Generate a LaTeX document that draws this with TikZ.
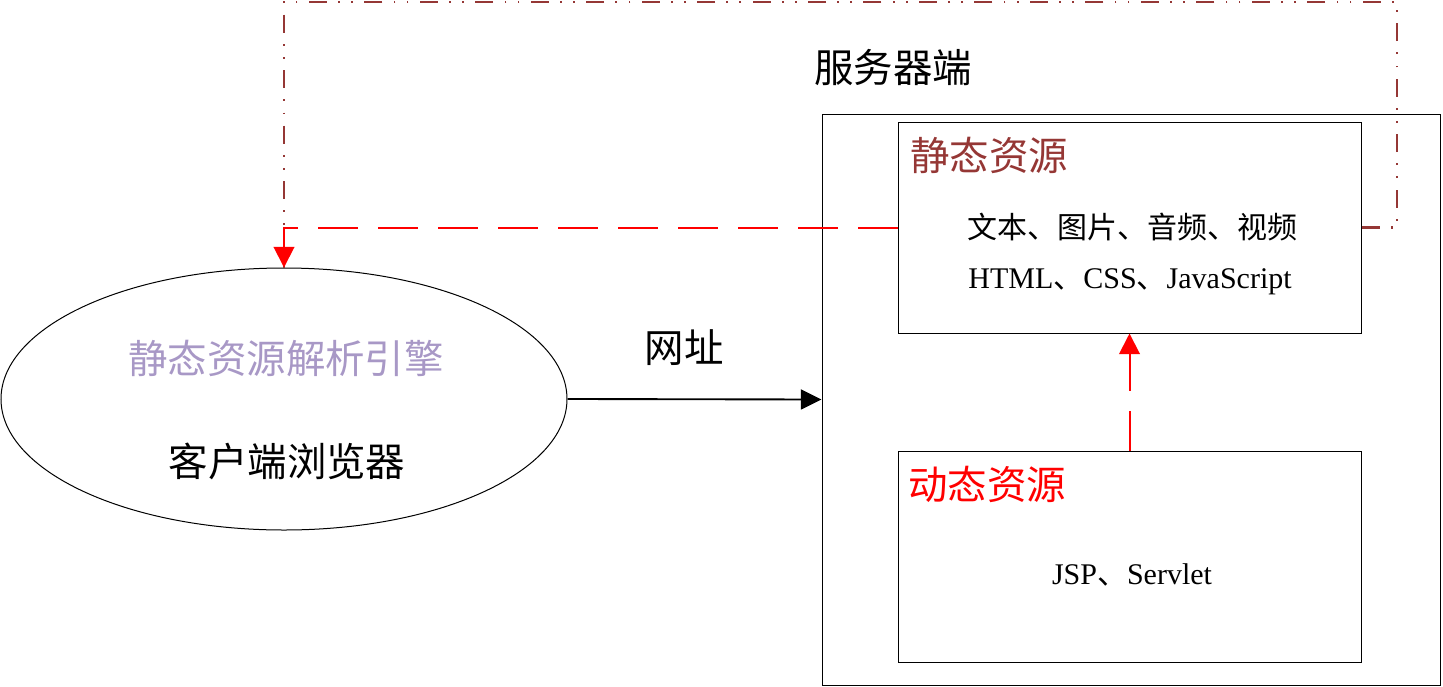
\documentclass[tikz,border=0pt]{standalone}
\usepackage{fontspec}
\setmainfont{Liberation Serif}
\newfontfamily\cjk{Noto Sans CJK SC}
\usepackage{tikz}
\usetikzlibrary{
  shapes.geometric,
  arrows.meta,
  positioning
}
\definecolor{LoopBrown}{HTML}{953735}
\definecolor{EngLilac}{HTML}{A898C6}
\tikzset{
  % Plain framed box (server and resource boxes)
  srvbox/.style={
    rectangle, draw=black, line width=0.75pt, inner sep=0pt
  },
  % Browser ellipse
  engell/.style={
    ellipse, draw=black, line width=0.75pt, inner sep=0pt,
    minimum width=424.5pt, minimum height=196.5pt
  },
  % Large CJK caption
  bigtxt/.style={font=\fontsize{29.6pt}{32pt}\selectfont\cjk, inner sep=0pt, text=#1},
  bigtxt/.default=black,
  % Small caption inside boxes
  smalltxt/.style={font=\fontsize{22.5pt}{26pt}\selectfont, inner sep=0pt},
  % Arrow
  arr/.style={
    -{Triangle[length=15.5pt,width=15pt]},
    line width=#1
  },
  % Red dashed request arrow
  rdash/.style={
    -{Triangle[length=15.5pt,width=15.5pt]},
    dash pattern=on 30pt off 15pt, line width=1.5pt, color=red
  },
  % Dash-dot-dot return line
  backline/.style={
    dash pattern=on 13.5pt off 8.5pt on 1.3pt off 8.5pt on 1.3pt off 8.5pt,
    line width=1.6pt, color=LoopBrown
  }
}
\begin{document}
\begin{tikzpicture}[x=0.75pt, y=-0.75pt]
  \useasboundingbox (0,0) rectangle (1443,686);

  % client side
  \node[engell] (engine) at (284,399) {};
  \node[bigtxt=EngLilac] (etitle)   at (286,358) {静态资源解析引擎};
  \node[bigtxt]          (ebrowser) at (287,461) {客户端浏览器};

  % server side
  \node[srvbox, minimum width=463.5pt, minimum height=428.25pt] (server)  at (1131,399.5) {};
  \node[srvbox, minimum width=347.25pt, minimum height=158.25pt] (static)  at (1129.5,227.5) {};
  \node[srvbox, minimum width=347.25pt, minimum height=158.25pt] (dynamic) at (1129.5,556.5) {};
  \node[bigtxt] (servlbl) at (893,68) {服务器端};

  \node[bigtxt=LoopBrown, anchor=west] (stitle) at (910,155) {静态资源};
  \node[smalltxt] (smedia) at (1132,227) {\cjk 文本、图片、音频、视频};
  \node[smalltxt] (sweb)   at (1130,282) {HTML{\cjk 、}CSS{\cjk 、}JavaScript};

  \node[bigtxt=red, anchor=west] (dtitle) at (908,484) {动态资源};
  \node[smalltxt] (dtech) at (1132,575) {JSP{\cjk 、}Servlet};

  % request
  \node[bigtxt] (urllbl) at (684,348) {网址};
  \draw[arr=1.4pt] (engine.east) -- (server.west);

  % response paths
  \coordinate (loopTR) at (1397,2);
  \draw[backline] (static.east) -| (loopTR) -| (engine.north);
  \draw[rdash] (static.west) -| (engine.north);
  \draw[rdash] (dynamic.north) -- (static.south);
\end{tikzpicture}
\end{document}
